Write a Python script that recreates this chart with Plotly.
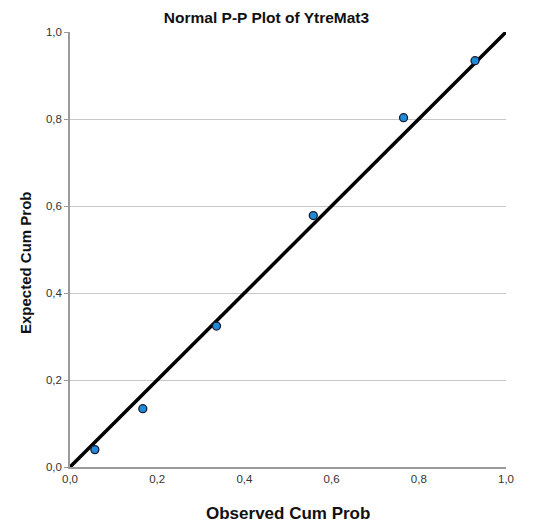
import plotly.graph_objects as go

observed = [0.057, 0.167, 0.336, 0.558, 0.765, 0.929]
expected = [0.040, 0.134, 0.324, 0.578, 0.803, 0.934]
line_x = [0.0, 1.0]
line_y = [0.0, 1.0]
tick_vals = [0.0, 0.2, 0.4, 0.6, 0.8, 1.0]
tick_text = ["0,0", "0,2", "0,4", "0,6", "0,8", "1,0"]

fig = go.Figure()
fig.add_trace(go.Scatter(x=line_x, y=line_y, mode="lines",
                         line=dict(color="black", width=3.5), hoverinfo="skip",
                         cliponaxis=False))
fig.add_trace(go.Scatter(x=observed, y=expected, mode="markers",
                         marker=dict(size=8, color="#1f8ad8",
                                     line=dict(color="#1a1a2e", width=1.3)),
                         cliponaxis=False))

H = 526
fig.update_layout(
    width=533, height=H,
    margin=dict(l=70, r=27, t=32, b=59),
    paper_bgcolor="white", plot_bgcolor="white",
    showlegend=False,
    font=dict(family="Liberation Sans, Arial", color="#222"),
    title=dict(text="<b>Normal P-P Plot of YtreMat3</b>", x=0.5, xanchor="center",
               y=1 - 18 / H, yanchor="middle",
               font=dict(size=15.5, color="#111")),
    annotations=[
        dict(text="<b>Observed Cum Prob</b>", xref="paper", yref="paper",
             x=(288 - 70) / 436, y=-(513 - 467) / 435, xanchor="center",
             yanchor="middle", showarrow=False,
             font=dict(size=17, color="#111")),
        dict(text="<b>Expected Cum Prob</b>", xref="paper", yref="paper",
             x=-(70 - 25) / 436, y=(467 - 263) / 435, xanchor="center",
             yanchor="middle", showarrow=False, textangle=-90,
             font=dict(size=15, color="#111")),
    ],
)
fig.update_xaxes(range=[0, 1], tickvals=tick_vals, ticktext=tick_text,
                 showgrid=False, zeroline=False, showline=True,
                 linecolor="#9a9a9a", linewidth=1.5, ticks="", ticklen=0,
                 tickfont=dict(size=11.5, color="#333"))
fig.update_yaxes(range=[0, 1], tickvals=tick_vals, ticktext=tick_text,
                 showgrid=True, gridcolor="#c8c8c8", gridwidth=1,
                 zeroline=False, showline=True,
                 linecolor="#9a9a9a", linewidth=1.5, ticks="outside", ticklen=4,
                 tickcolor="#9a9a9a",
                 tickfont=dict(size=11.5, color="#333"))

fig.write_html("out.html")
